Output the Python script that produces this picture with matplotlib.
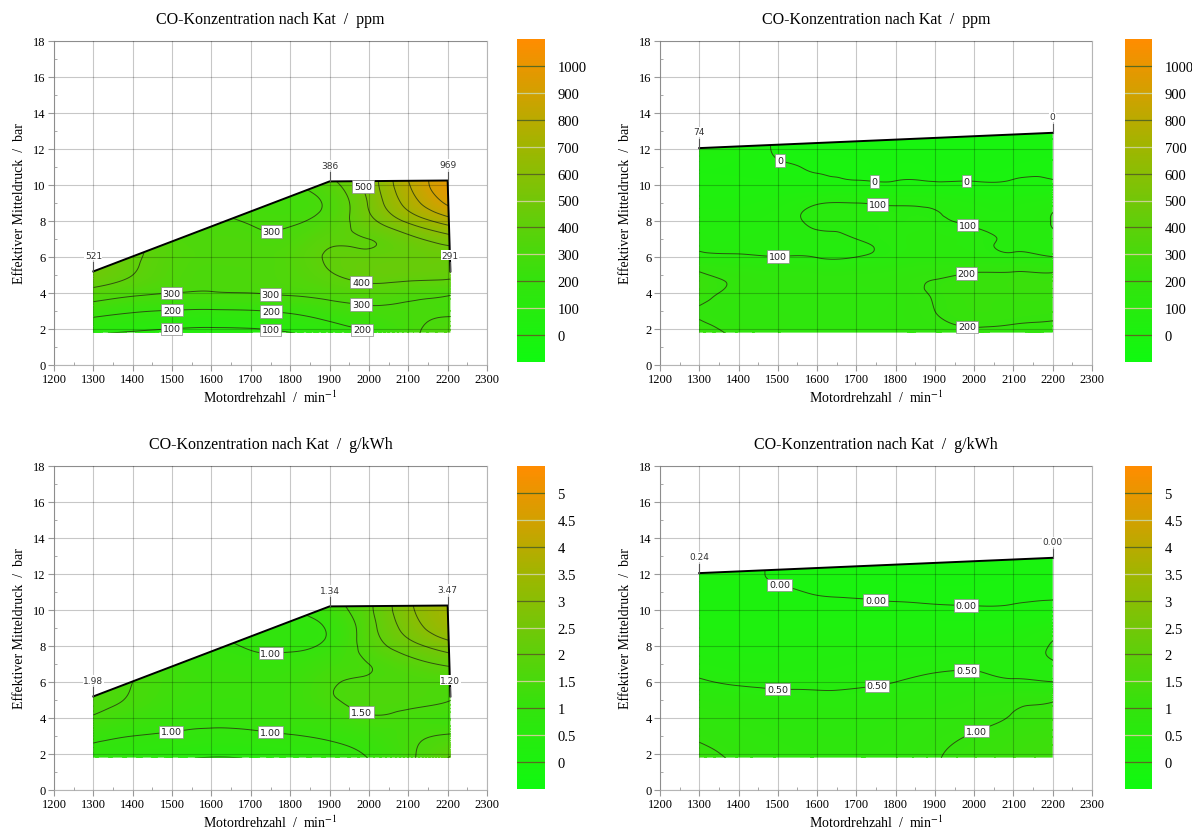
import numpy as np
import matplotlib
matplotlib.use("Agg")
import matplotlib.pyplot as plt
import matplotlib.tri as mtri
from matplotlib.colors import LinearSegmentedColormap, Normalize
from matplotlib.cm import ScalarMappable
from matplotlib.patches import Polygon

plt.rcParams['font.family'] = ['Liberation Serif', 'DejaVu Serif']
plt.rcParams['mathtext.fontset'] = 'stix'

# --- Kennfeld left: Volllast bis 10 bar ---
speed_l = [1300, 1400, 1500, 1600, 1700, 1800, 1900, 2000, 2100, 2210]
bmep_l = [1.7, 3, 4, 5, 6, 7, 8, 9, 10.3]
co_ppm_l = [
    [100, 85, 75, 70, 75, 90, 140, 190, 280, 340],
    [240, 210, 195, 190, 195, 215, 250, 280, 290, 290],
    [360, 320, 300, 295, 300, 310, 330, 350, 330, 310],
    [470, 400, 340, 315, 320, 340, 390, 430, 430, 420],
    [500, 420, 350, 325, 325, 345, 410, 420, 440, 450],
    [510, 440, 340, 320, 315, 320, 380, 400, 470, 560],
    [515, 450, 330, 305, 295, 290, 340, 470, 620, 760],
    [520, 450, 320, 290, 280, 270, 320, 510, 740, 930],
    [521, 450, 320, 290, 280, 300, 386, 540, 800, 980],
]
co_gkwh_l = [
    [0.85, 0.70, 0.55, 0.45, 0.50, 0.65, 0.80, 1.00, 1.40, 2.10],
    [1.10, 1.00, 0.95, 0.90, 0.92, 0.98, 1.05, 1.20, 1.40, 1.55],
    [1.45, 1.25, 1.12, 1.08, 1.10, 1.15, 1.25, 1.45, 1.40, 1.30],
    [1.65, 1.45, 1.25, 1.15, 1.15, 1.22, 1.45, 1.60, 1.60, 1.50],
    [1.75, 1.50, 1.30, 1.18, 1.15, 1.20, 1.45, 1.55, 1.60, 1.60],
    [1.80, 1.55, 1.25, 1.12, 1.08, 1.10, 1.30, 1.50, 1.80, 2.10],
    [1.85, 1.55, 1.20, 1.05, 0.98, 0.95, 1.10, 1.70, 2.30, 2.80],
    [1.90, 1.55, 1.20, 1.00, 0.95, 0.90, 1.05, 1.80, 2.70, 3.40],
    [1.98, 1.55, 1.20, 1.00, 0.95, 1.00, 1.34, 1.90, 2.90, 3.47],
]
# Volllastlinie und Eckpunkte
fl_speed_l = [1300, 1900, 2200, 2207]
fl_bmep_l = [5.2, 10.2, 10.25, 5.2]
corner_ppm_l = ['521', '386', '969', '291']
corner_gkwh_l = ['1.98', '1.34', '3.47', '1.20']

# --- Kennfeld right: bis 13 bar ---
speed_r = [1300, 1400, 1500, 1600, 1700, 1800, 1900, 2000, 2100, 2210]
bmep_r = [1.7, 3, 4, 5, 6, 7, 8, 9, 10, 11, 12, 13]
co_ppm_r = [
    [230, 190, 170, 160, 160, 165, 175, 185, 180, 170],
    [195, 175, 170, 165, 165, 175, 200, 220, 215, 210],
    [225, 185, 170, 165, 165, 175, 205, 225, 225, 225],
    [215, 180, 165, 160, 160, 170, 190, 210, 215, 215],
    [120, 110, 102, 98, 100, 120, 135, 130, 115, 100],
    [85, 80, 85, 90, 100, 115, 125, 115, 95, 90],
    [65, 65, 80, 110, 112, 110, 108, 90, 80, 105],
    [45, 45, 60, 95, 100, 92, 85, 65, 60, 85],
    [30, 28, 25, 20, 15, 12, 10, 8, 10, 12],
    [22, 15, 5, -3, -8, -10, -12, -12, -10, -8],
    [55, 30, -5, -15, -20, -25, -25, -25, -20, -15],
    [74, 40, 0, -15, -20, -25, -25, -25, -15, 0],
]
co_gkwh_r = [
    [1.15, 0.95, 0.85, 0.80, 0.80, 0.85, 0.98, 1.10, 1.20, 1.30],
    [0.95, 0.85, 0.78, 0.75, 0.75, 0.80, 0.92, 1.02, 1.12, 1.20],
    [0.85, 0.78, 0.72, 0.70, 0.70, 0.75, 0.82, 0.92, 1.02, 1.10],
    [0.75, 0.68, 0.62, 0.60, 0.60, 0.65, 0.70, 0.80, 0.90, 0.98],
    [0.55, 0.45, 0.42, 0.42, 0.45, 0.50, 0.58, 0.60, 0.55, 0.50],
    [0.35, 0.30, 0.30, 0.32, 0.35, 0.38, 0.42, 0.45, 0.42, 0.48],
    [0.25, 0.22, 0.22, 0.25, 0.25, 0.25, 0.28, 0.30, 0.35, 0.55],
    [0.15, 0.14, 0.14, 0.15, 0.15, 0.15, 0.15, 0.15, 0.20, 0.35],
    [0.08, 0.08, 0.07, 0.06, 0.05, 0.04, 0.03, 0.02, 0.03, 0.08],
    [0.05, 0.03, 0.02, -0.01, -0.02, -0.03, -0.04, -0.04, -0.03, -0.02],
    [0.15, 0.06, -0.02, -0.04, -0.05, -0.06, -0.06, -0.06, -0.05, -0.03],
    [0.24, 0.10, -0.02, -0.05, -0.06, -0.06, -0.06, -0.06, -0.04, 0.00],
]
fl_speed_r = [1300, 2200]
fl_bmep_r = [12.05, 12.9]
corner_ppm_r = ['74', '0']
corner_gkwh_r = ['0.24', '0.00']

# Skalen
ppm_ticks = [0, 100, 200, 300, 400, 500, 600, 700, 800, 900, 1000]
gkwh_ticks = [0, 0.5, 1, 1.5, 2, 2.5, 3, 3.5, 4, 4.5, 5]
gkwh_ticklabels = ['0', '0.5', '1', '1.5', '2', '2.5', '3', '3.5', '4', '4.5', '5']

cmap = LinearSegmentedColormap.from_list('co', [
    (0.00, (0.06, 0.98, 0.06)),
    (0.25, (0.20, 0.89, 0.05)),
    (0.50, (0.45, 0.78, 0.03)),
    (0.67, (0.63, 0.71, 0.00)),
    (0.83, (0.82, 0.63, 0.00)),
    (1.00, (1.00, 0.55, 0.00)),
])


def draw_map(ax, cax, speed, bmep, z, clip_xy, fl_x, fl_y, corners,
             vmin, vmax, line_levels, label_pos, fmt, cticks, cticklabels, title):
    X, Y = np.meshgrid(speed, bmep)
    zz = np.asarray(z, float).ravel()
    tri = mtri.Triangulation(X.ravel(), Y.ravel())
    refiner = mtri.UniformTriRefiner(tri)
    interp = mtri.CubicTriInterpolator(tri, zz)
    tri_f, z_f = refiner.refine_field(zz, triinterpolator=interp, subdiv=4)

    clip = Polygon(clip_xy, closed=True, transform=ax.transData, facecolor='none', edgecolor='none')
    ax.add_patch(clip)

    fill = ax.tricontourf(tri_f, z_f, levels=np.linspace(vmin, vmax, 121),
                          cmap=cmap, vmin=vmin, vmax=vmax, extend='both', zorder=1)
    fill.set_edgecolor('face')
    fill.set_linewidth(0.3)
    fill.set_antialiased(False)
    fill.set_clip_path(clip)
    lines = ax.tricontour(tri_f, z_f, levels=line_levels, colors='#2a3a10',
                          linewidths=0.7, alpha=0.85, zorder=2)
    lines.set_clip_path(clip)
    labels = ax.clabel(lines, manual=label_pos, inline=True, inline_spacing=2,
                       fontsize=6.8, fmt=fmt)
    for t in labels:
        t.set_rotation(0)
        t.set_family('DejaVu Sans')
        t.set_color('#222222')
        t.set_bbox(dict(facecolor='white', edgecolor='#8a8a8a', linewidth=0.5, pad=1.2))
        t.set_zorder(4)

    # Volllastlinie
    ax.plot(fl_x, fl_y, color='black', lw=1.4, zorder=3, solid_joinstyle='miter')
    for x, y, s in zip(fl_x, fl_y, corners):
        ax.plot([x, x], [y, y + 0.5], color='#555555', lw=0.8, zorder=3)
        ax.text(x, y + 0.9, s, fontsize=6.5, family='DejaVu Sans', color='#333333',
                ha='center', va='center', zorder=4,
                bbox=dict(facecolor='white', edgecolor='none', pad=0.3))

    ax.set_xlim(1200, 2300)
    ax.set_ylim(0, 18)
    ax.set_xticks(np.arange(1200, 2301, 100))
    ax.set_xticks(np.arange(1250, 2300, 100), minor=True)
    ax.set_yticks(np.arange(0, 19, 2))
    ax.set_yticks(np.arange(1, 18, 2), minor=True)
    ax.tick_params(which='major', direction='out', length=4, color='#999999', labelsize=9, pad=2)
    ax.tick_params(which='minor', direction='in', length=2.5, color='#999999')
    ax.set_axisbelow(False)
    ax.grid(True, which='major', color='black', alpha=0.22, lw=0.8)
    for sp in ax.spines.values():
        sp.set_color('#b5b5b5')
        sp.set_linewidth(0.8)
    ax.set_xlabel(r'Motordrehzahl  /  min$^{-1}$', fontsize=10, labelpad=2)
    ax.set_ylabel('Effektiver Mitteldruck  /  bar', fontsize=10, labelpad=5)
    ax.set_title(title, fontsize=11.5, pad=13)

    sm = ScalarMappable(norm=Normalize(vmin, vmax), cmap=cmap)
    cb = plt.colorbar(sm, cax=cax)
    cb.outline.set_visible(False)
    cb.set_ticks(cticks)
    cb.set_ticklabels(cticklabels)
    cax.tick_params(length=0, labelsize=10.5, pad=9)
    for i, v in enumerate(cticks):
        cax.axhline(v, color='#5a6a20' if i % 2 == 0 else '#c8d090', lw=0.9)


fig = plt.figure(figsize=(11.92, 8.29), dpi=100)
W, H = 1192, 829


def box(x0, y0, x1, y1):
    return [x0 / W, 1 - y1 / H, (x1 - x0) / W, (y1 - y0) / H]


clip_l = [(1300, 1.8), (1300, 5.2), (1900, 10.2), (2200, 10.25), (2207, 5.2), (2207, 1.8)]
clip_r = [(1300, 1.8), (1300, 12.05), (2200, 12.9), (2200, 1.8)]

ax1 = fig.add_axes(box(54, 42, 487, 366))
cax1 = fig.add_axes(box(517, 40, 545, 363))
draw_map(ax1, cax1, speed_l, bmep_l, co_ppm_l, clip_l, fl_speed_l, fl_bmep_l, corner_ppm_l,
         -100, 1100, np.arange(100, 1001, 100),
         [(1980, 9.9), (1750, 7.6), (1980, 4.6), (1500, 3.8), (1750, 3.9), (1980, 3.4),
          (1500, 2.9), (1750, 2.9), (1500, 1.85), (1750, 1.9), (1980, 1.9)],
         '%d', ppm_ticks, [str(v) for v in ppm_ticks], 'CO-Konzentration nach Kat  /  ppm')

ax2 = fig.add_axes(box(660, 42, 1092, 366))
cax2 = fig.add_axes(box(1125, 40, 1152, 363))
draw_map(ax2, cax2, speed_r, bmep_r, co_ppm_r, clip_r, fl_speed_r, fl_bmep_r, corner_ppm_r,
         -100, 1100, np.arange(0, 1001, 100),
         [(1500, 11.2), (1750, 10.8), (1980, 10.5), (1750, 8.5), (1980, 7.6), (1500, 6.2),
          (1980, 5.1), (1980, 1.9)],
         '%d', ppm_ticks, [str(v) for v in ppm_ticks], 'CO-Konzentration nach Kat  /  ppm')

ax3 = fig.add_axes(box(54, 467, 487, 791))
cax3 = fig.add_axes(box(517, 467, 545, 790))
draw_map(ax3, cax3, speed_l, bmep_l, co_gkwh_l, clip_l, fl_speed_l, fl_bmep_l, corner_gkwh_l,
         -0.5, 5.5, np.arange(0.5, 5.01, 0.5),
         [(1750, 7.7), (1980, 4.3), (1500, 3.1), (1750, 3.2)],
         '%.2f', gkwh_ticks, gkwh_ticklabels, 'CO-Konzentration nach Kat  /  g/kWh')

ax4 = fig.add_axes(box(660, 467, 1092, 791))
cax4 = fig.add_axes(box(1125, 467, 1152, 790))
draw_map(ax4, cax4, speed_r, bmep_r, co_gkwh_r, clip_r, fl_speed_r, fl_bmep_r, corner_gkwh_r,
         -0.5, 5.5, np.arange(0, 5.01, 0.5),
         [(1500, 11.2), (1750, 10.7), (1980, 10.4), (1500, 5.8), (1750, 6.0), (1980, 6.4),
          (1980, 4.0)],
         '%.2f', gkwh_ticks, gkwh_ticklabels, 'CO-Konzentration nach Kat  /  g/kWh')

fig.savefig('out.png', dpi=100)
